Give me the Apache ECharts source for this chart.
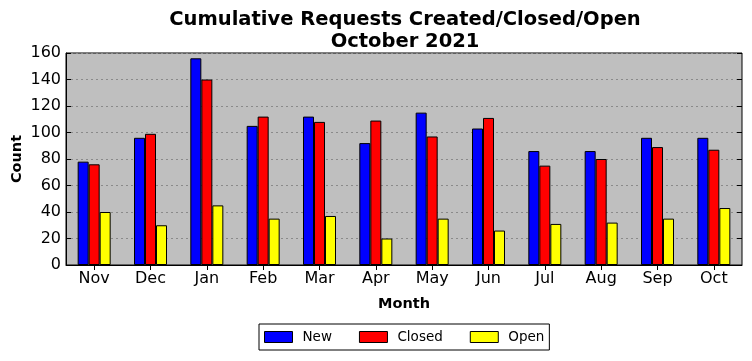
<!DOCTYPE html>
<html><head><meta charset="utf-8">
<script src="https://cdn.jsdelivr.net/npm/echarts@6/dist/echarts.min.js"></script>
<style>html,body{margin:0;padding:0;background:#fff}#c{width:752px;height:361px}</style>
</head><body><div id="c"></div>
<script>
var months = ['Nov','Dec','Jan','Feb','Mar','Apr','May','Jun','Jul','Aug','Sep','Oct'];
var newVals = [78,96,156,105,112,92,115,103,86,86,96,96];
var closedVals = [76,99,140,112,108,109,97,111,75,80,89,87];
var openVals = [40,30,45,35,37,20,35,26,31,32,35,43];
var yTicks = {min:0, max:160, interval:20};

var font = 'DejaVu Sans';
var chart = echarts.init(document.getElementById('c'));
function bar(name, data, color){
  return {name:name, type:'bar', data:data, barWidth:11, barGap:0,
    itemStyle:{color:color, borderColor:'#000', borderWidth:1}};
}
chart.setOption({
  animation:false,
  textStyle:{fontFamily:font},
  title:{text:'Cumulative Requests Created/Closed/Open\nOctober 2021', left:400, textAlign:'center', top:4,
    textStyle:{fontFamily:font, fontSize:19.5, fontWeight:'bold', color:'#000', lineHeight:22}},
  legend:{bottom:11, left:259, itemWidth:28, itemHeight:11, itemGap:27, icon:'rect',
    borderColor:'#000', borderWidth:1, padding:[6,5,6,5], borderRadius:0,
    textStyle:{fontFamily:font, fontSize:13.5, color:'#000', padding:[0,0,0,5]},
    itemStyle:{borderColor:'#000', borderWidth:1}},
  grid:{left:66, right:10, top:53, bottom:96, outerBoundsMode:'none', containLabel:false,
    show:true, backgroundColor:'#bfbfbf', borderColor:'#000', borderWidth:1},
  xAxis:[{type:'category', data:months, name:'Month', nameLocation:'middle', nameGap:32, nameMoveOverlap:false,
    nameTextStyle:{fontFamily:font, fontSize:14.5, fontWeight:'bold', color:'#000'},
    axisLine:{lineStyle:{color:'#000'}}, axisTick:{show:false},
    axisLabel:{fontFamily:font, fontSize:16, color:'#000', margin:6}},
    {type:'category', data:months, position:'top', axisLine:{show:false},
    axisTick:{show:true, inside:true, alignWithLabel:true, length:5, lineStyle:{color:'#000'}}, axisLabel:{show:false}}],
  yAxis:[{type:'value', min:yTicks.min, max:yTicks.max, interval:yTicks.interval, name:'Count', nameLocation:'middle', nameGap:41, nameMoveOverlap:false,
    nameTextStyle:{fontFamily:font, fontSize:14.5, fontWeight:'bold', color:'#000'},
    axisLine:{show:true, lineStyle:{color:'#000'}}, axisTick:{show:true, inside:true, length:5, lineStyle:{color:'#000'}},
    axisLabel:{fontFamily:font, fontSize:16, color:'#000', margin:5},
    splitLine:{show:true, lineStyle:{color:'#8a8a8a', type:[2,3], width:1}}},
    {type:'value', min:yTicks.min, max:yTicks.max, interval:yTicks.interval, position:'right',
    axisLine:{show:false}, axisTick:{show:true, inside:true, length:5, lineStyle:{color:'#000'}},
    axisLabel:{show:false}, splitLine:{show:false}}],
  series:[bar('New', newVals, '#0000ff'), bar('Closed', closedVals, '#ff0000'), bar('Open', openVals, '#ffff00')]
});
</script></body></html>
